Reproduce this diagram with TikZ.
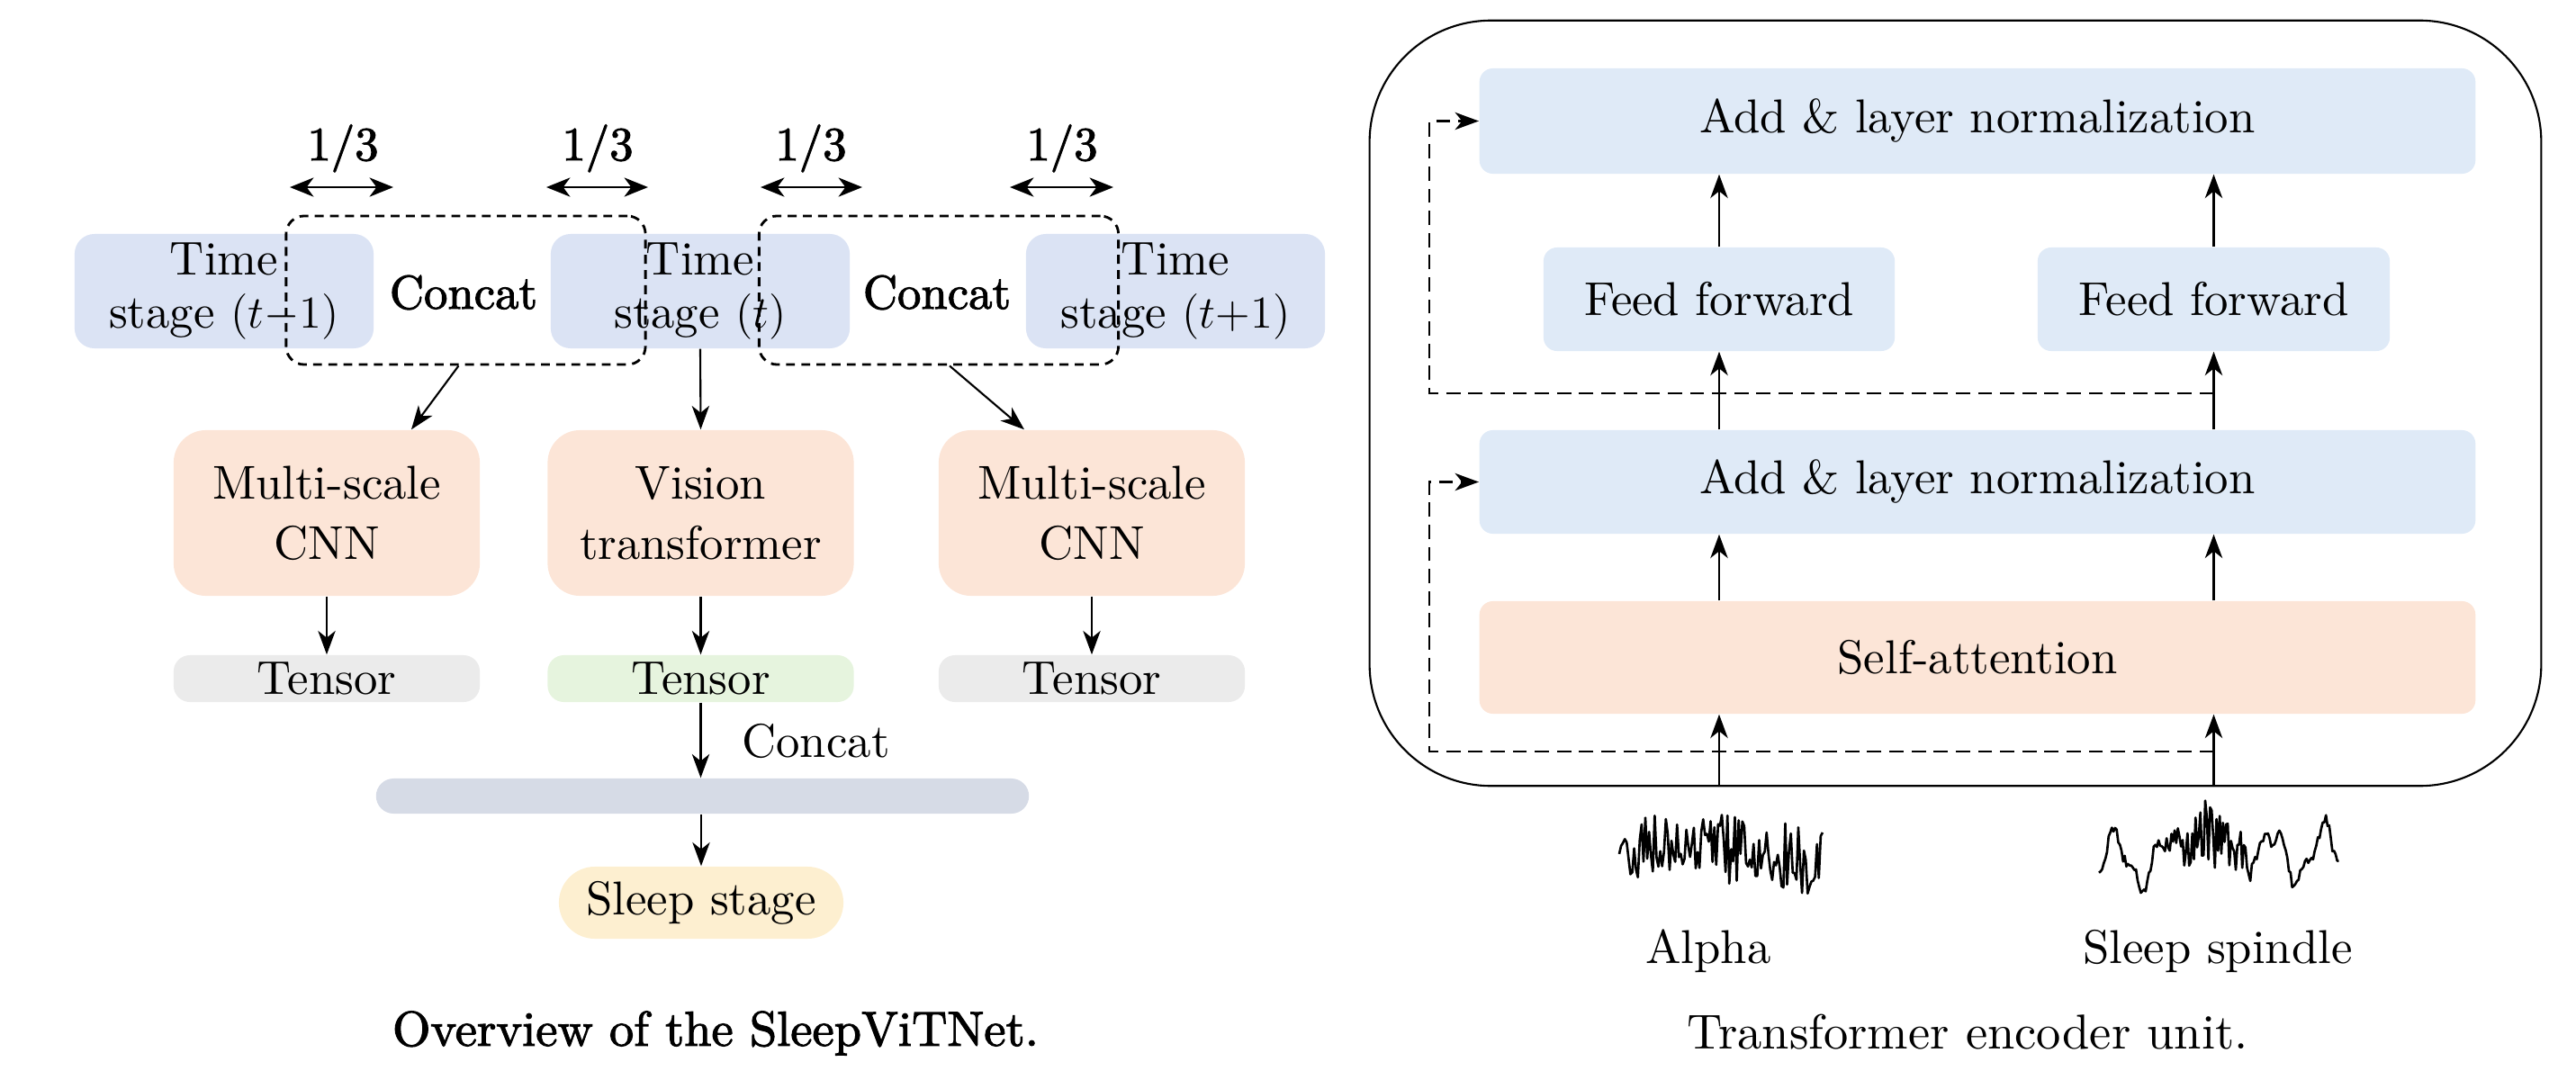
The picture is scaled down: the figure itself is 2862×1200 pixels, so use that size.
\documentclass[tikz,border=0pt]{standalone}
\usepackage{fontspec}
\setmainfont{lmroman10-regular}[Extension=.otf, ItalicFont=lmroman10-italic, BoldFont=lmroman10-bold]
\newfontfamily\heavyfont{lmroman10-regular}[Extension=.otf, FakeBold=2]
\newfontfamily\capheavy{lmroman10-regular}[Extension=.otf, FakeBold=2]
\usetikzlibrary{arrows.meta,calc}
\definecolor{tsblue}{RGB}{219,227,244}
\definecolor{lnblue}{RGB}{223,234,247}
\definecolor{peach}{RGB}{252,229,215}
\definecolor{tgray}{RGB}{235,235,235}
\definecolor{tgreen}{RGB}{230,244,222}
\definecolor{barcol}{RGB}{214,219,230}
\definecolor{sleepcol}{RGB}{253,239,208}
\begin{document}
\begin{tikzpicture}[x=0.01cm,y=-0.01cm,
  font=\fontsize{15}{19}\selectfont,
  fbox/.style={draw=none, inner sep=0pt, align=center},
  tsbox/.style={fbox, fill=tsblue, rounded corners=0.22cm, minimum width=3.32cm, minimum height=1.27cm, font=\fontsize{15}{17}\selectfont},
  cnnbox/.style={fbox, fill=peach, rounded corners=0.36cm, minimum width=3.40cm, minimum height=1.84cm},
  tensbox/.style={fbox, rounded corners=0.18cm, minimum width=3.40cm, minimum height=0.52cm},
  dbox/.style={draw, dash pattern=on 2.8pt off 2pt, line width=0.8pt, rounded corners=0.2cm, inner sep=0pt, minimum width=3.99cm, minimum height=1.65cm},
  lnbox/.style={fbox, fill=lnblue, rounded corners=0.15cm},
  tip/.style={-{Stealth[length=7.5pt,width=5.5pt,inset=2.2pt]}},
  arr/.style={tip, line width=0.6pt},
  darr/.style={{Stealth[length=7.5pt,width=6pt,inset=2.2pt]}-{Stealth[length=7.5pt,width=6pt,inset=2.2pt]}, line width=0.8pt},
  rdash/.style={tip, line width=0.6pt, dash pattern=on 4.5pt off 2.5pt},
  wave/.style={line width=0.75pt, line join=round},
  frac/.style={anchor=base, font=\fontsize{15}{19}\heavyfont},
  capstyle/.style={font=\fontsize{15.5}{19}\selectfont}
]
\useasboundingbox (0,0) rectangle (2862,1200);

% ---------------- Left panel ----------------
\node[tsbox] (ts1) at (249,323.5) {Time\\stage $(t{-}1)$};
\node[tsbox] (ts2) at (778,323.5) {Time\\stage $(t)$};
\node[tsbox] (ts3) at (1306,323.5) {Time\\stage $(t{+}1)$};

\node[dbox] (db1) at (517.5,322.5) {};
\node[dbox] (db2) at (1043,322.5) {};
\node[font=\fontsize{15}{19}\heavyfont] (cc1) at (515,325) {Concat};
\node[font=\fontsize{15}{19}\heavyfont] (cc2) at (1041,325) {Concat};

\coordinate (a1l) at (322,208); \coordinate (a1r) at (437,208);
\coordinate (a2l) at (607,208); \coordinate (a2r) at (720,208);
\coordinate (a3l) at (845,208); \coordinate (a3r) at (958,208);
\coordinate (a4l) at (1122,208); \coordinate (a4r) at (1237,208);
\draw[darr] (a1l) -- (a1r);
\draw[darr] (a2l) -- (a2r);
\draw[darr] (a3l) -- (a3r);
\draw[darr] (a4l) -- (a4r);
\node[frac] (f1) at (381,178) {1/3};
\node[frac] (f2) at (664,178) {1/3};
\node[frac] (f3) at (901,178) {1/3};
\node[frac] (f4) at (1180,178) {1/3};

\node[cnnbox] (cnn1) at (363,570) {Multi-scale\\CNN};
\node[cnnbox] (vit) at (778.5,570) {Vision\\transformer};
\node[cnnbox] (cnn2) at (1213,570) {Multi-scale\\CNN};

\node[tensbox, fill=tgray] (t1) at (363,754) {Tensor};
\node[tensbox, fill=tgreen] (t2) at (778.5,754) {Tensor};
\node[tensbox, fill=tgray] (t3) at (1213,754) {Tensor};

\draw[arr] ($(db1.south)+(-8,0)$) -- ($(cnn1.north)+(94,0)$);
\draw[arr] (ts2.south) -- (vit.north);
\draw[arr] ($(db2.south)+(12,0)$) -- ($(cnn2.north)+(-75,0)$);
\draw[arr] (cnn1) -- (t1);
\draw[arr] (vit) -- (t2);
\draw[arr] (cnn2) -- (t3);

\node[fbox, fill=barcol, rounded corners=0.195cm, minimum width=7.25cm, minimum height=0.39cm] (bar) at (780.5,884.5) {};
\draw[arr] (t2.south) -- (t2.south |- bar.north);
\node[anchor=west] (cc3) at (812,823) {Concat};
\node[fbox, fill=sleepcol, rounded corners=0.4cm, minimum width=3.16cm, minimum height=0.8cm] (sleep) at (779,1003) {Sleep stage};
\draw[arr] (bar.south -| sleep.north) -- (sleep.north);

\node[font=\fontsize{15.5}{19}\capheavy] (cap1) at (795,1148) {Overview of the SleepViTNet.};

% ---------------- Right panel ----------------
\node[draw, line width=0.6pt, rounded corners=1.35cm, inner sep=0pt, minimum width=13.01cm, minimum height=8.5cm] (outer) at (2172.5,448) {};

\node[lnbox, minimum width=11.06cm, minimum height=1.17cm] (an2) at (2197,134.5) {Add \& layer normalization};
\node[lnbox, minimum width=3.90cm, minimum height=1.15cm] (ff1) at (1910,332.5) {Feed forward};
\node[lnbox, minimum width=3.91cm, minimum height=1.15cm] (ff2) at (2459.5,332.5) {Feed forward};
\node[lnbox, minimum width=11.06cm, minimum height=1.15cm] (an1) at (2197,535.5) {Add \& layer normalization};
\node[fbox, fill=peach, rounded corners=0.15cm, minimum width=11.06cm, minimum height=1.25cm] (sa) at (2197,730.5) {Self-attention};

\foreach \c in {ff1,ff2}{
  \draw[arr] (\c |- outer.south) -- (\c |- sa.south);
  \draw[arr] (\c |- sa.north) -- (\c |- an1.south);
  \draw[arr] (\c |- an1.north) -- (\c.south);
  \draw[arr] (\c.north) -- (\c |- an2.south);
}

\coordinate (r1s) at (2459.5,835); \coordinate (r1c) at (1588,835);
\coordinate (r2s) at (2459.5,437); \coordinate (r2c) at (1588,437);
\draw[rdash] (r1s) -- (r1c) |- (an1.west);
\draw[rdash] (r2s) -- (r2c) |- (an2.west);

% waveforms
\pgfmathsetseed{11}
\draw[wave] plot[domain=0:1, samples=110, variable=\t]
  ({1799+226*\t}, {948 + (24+18*abs(sin(\t*520)))*rand - 8*sin(\t*300)});
\draw[wave] plot[domain=0:1, samples=150, variable=\t]
  ({2332+267*\t}, {958 + (27*sin(\t*360*4.6+160) + 11*sin(\t*360*11.3+40))*(1-exp(-((\t-0.47)/0.16)^2)) + exp(-((\t-0.47)/0.14)^2)*(44*rand-26) - 10*\t + 6*rand});

\node (alpha) at (1898,1057) {Alpha};
\node (spindle) at (2464,1057) {Sleep spindle};
\node[capstyle] (cap2) at (2186,1147) {Transformer encoder unit.};
\end{tikzpicture}
\end{document}
